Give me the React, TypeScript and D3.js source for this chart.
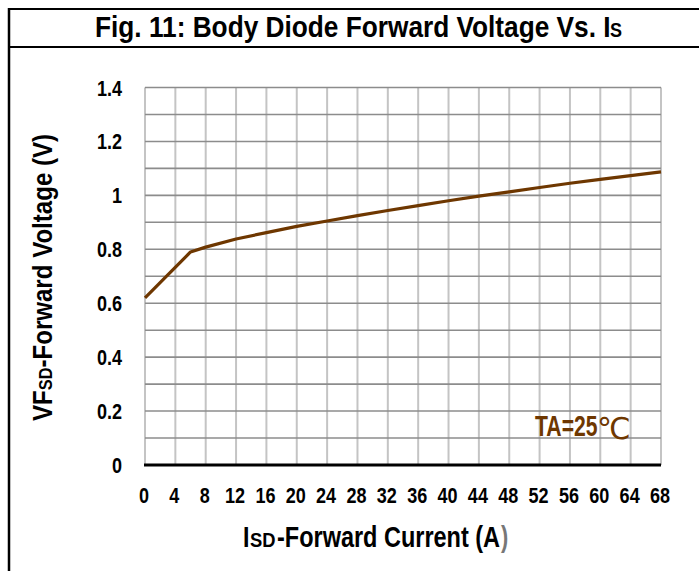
import React from "react";
import * as d3 from "d3";

const currents = [0, 6, 8, 12, 16, 20, 24, 28, 32, 36, 40, 44, 48, 52, 56, 60, 64, 68];
const voltages = [0.62, 0.79, 0.808, 0.838, 0.862, 0.885, 0.905, 0.925, 0.944, 0.962, 0.98, 0.997, 1.013, 1.029, 1.045, 1.059, 1.073, 1.087];
const xTicks = [0, 4, 8, 12, 16, 20, 24, 28, 32, 36, 40, 44, 48, 52, 56, 60, 64, 68];
const yTicks = [0, 0.2, 0.4, 0.6, 0.8, 1, 1.2, 1.4];
const yGrid = [0.1, 0.2, 0.3, 0.4, 0.5, 0.6, 0.7, 0.8, 0.9, 1.0, 1.1, 1.2, 1.3, 1.4];

const W = 699;
const H = 571;
const FONT = "'Liberation Sans', Arial, sans-serif";
const BROWN = "#6e3700";

function NText({
  x,
  y,
  sx,
  size,
  anchor = "start",
  fill = "#000",
  weight = "bold",
  family,
  children,
}: {
  x: number;
  y: number;
  sx: number;
  size: number;
  anchor?: string;
  fill?: string;
  weight?: string;
  family?: string;
  children: React.ReactNode;
}) {
  return (
    <g transform={`translate(${x},${y}) scale(${sx},1)`}>
      <text x={0} y={0} fontSize={size} fontWeight={weight} textAnchor={anchor} fill={fill} fontFamily={family}>
        {children}
      </text>
    </g>
  );
}

export default function App() {
  const x = d3.scaleLinear().domain([0, 68]).range([145, 661]);
  const y = d3.scaleLinear().domain([0, 1.4]).range([465, 87.5]);
  const line = d3
    .line<number>()
    .x((_, i) => x(currents[i]))
    .y((d) => y(d))
    .curve(d3.curveLinear);

  return (
    <svg
      width={W}
      height={H}
      style={{ position: "absolute", left: 0, top: 0, display: "block", background: "#fff" }}
      fontFamily={FONT}
    >
      {/* frame */}
      <line x1={8} x2={W} y1={9} y2={9} stroke="#000" strokeWidth={2} />
      <line x1={8} x2={W} y1={47} y2={47} stroke="#000" strokeWidth={2} />
      <line x1={9} x2={9} y1={8} y2={H} stroke="#000" strokeWidth={2.5} />

      {/* title */}
      <NText x={95} y={37} sx={0.875} size={30}>
        Fig. 11: Body Diode Forward Voltage Vs. I
      </NText>
      <NText x={610} y={37} sx={0.9} size={20}>
        S
      </NText>

      {/* vertical grid */}
      {xTicks.map((t) => (
        <line key={"vx" + t} x1={x(t)} x2={x(t)} y1={y(1.4)} y2={y(0)} stroke="#c4c4c4" strokeWidth={2} />
      ))}
      {/* horizontal grid */}
      {yGrid.map((t) => (
        <line key={"hy" + t} x1={x(0)} x2={x(68)} y1={y(t)} y2={y(t)} stroke="#8c8c8c" strokeWidth={1.6} />
      ))}
      {/* x axis */}
      <line x1={x(0) - 1} x2={x(68)} y1={y(0)} y2={y(0)} stroke="#000" strokeWidth={3} />

      {/* y tick labels */}
      {yTicks.map((t) => (
        <NText key={"yl" + t} x={122} y={y(t) + 8} sx={0.82} size={22} anchor="end">
          {d3.format("~g")(t)}
        </NText>
      ))}

      {/* x tick labels */}
      {xTicks.map((t) => (
        <NText key={"xl" + t} x={x(t) - 1} y={503} sx={0.82} size={22} anchor="middle">
          {String(t)}
        </NText>
      ))}

      {/* x axis title */}
      <NText x={243} y={547} sx={0.8} size={29}>
        I
      </NText>
      <NText x={250} y={547} sx={0.92} size={20}>
        SD
      </NText>
      <NText x={277} y={547} sx={0.81} size={29}>
        -Forward Current (A
      </NText>
      <NText x={501} y={547} sx={0.75} size={29} fill="#777">
        )
      </NText>

      {/* y axis title */}
      <g transform="translate(52,421) rotate(-90)">
        <NText x={0} y={0} sx={0.86} size={28}>
          <tspan>VF</tspan>
          <tspan fontSize={19}>SD</tspan>
          <tspan>-Forward Voltage (V)</tspan>
        </NText>
      </g>

      {/* data curve */}
      <path d={line(voltages) || ""} fill="none" stroke={BROWN} strokeWidth={3.2} strokeLinejoin="round" />

      {/* annotation */}
      <NText x={535} y={436} sx={0.73} size={29} fill={BROWN}>
        TA=25
      </NText>
      <NText x={597} y={439} sx={1} size={30} fill={BROWN} weight="normal" family="'DejaVu Sans', sans-serif">
        ℃
      </NText>
    </svg>
  );
}
